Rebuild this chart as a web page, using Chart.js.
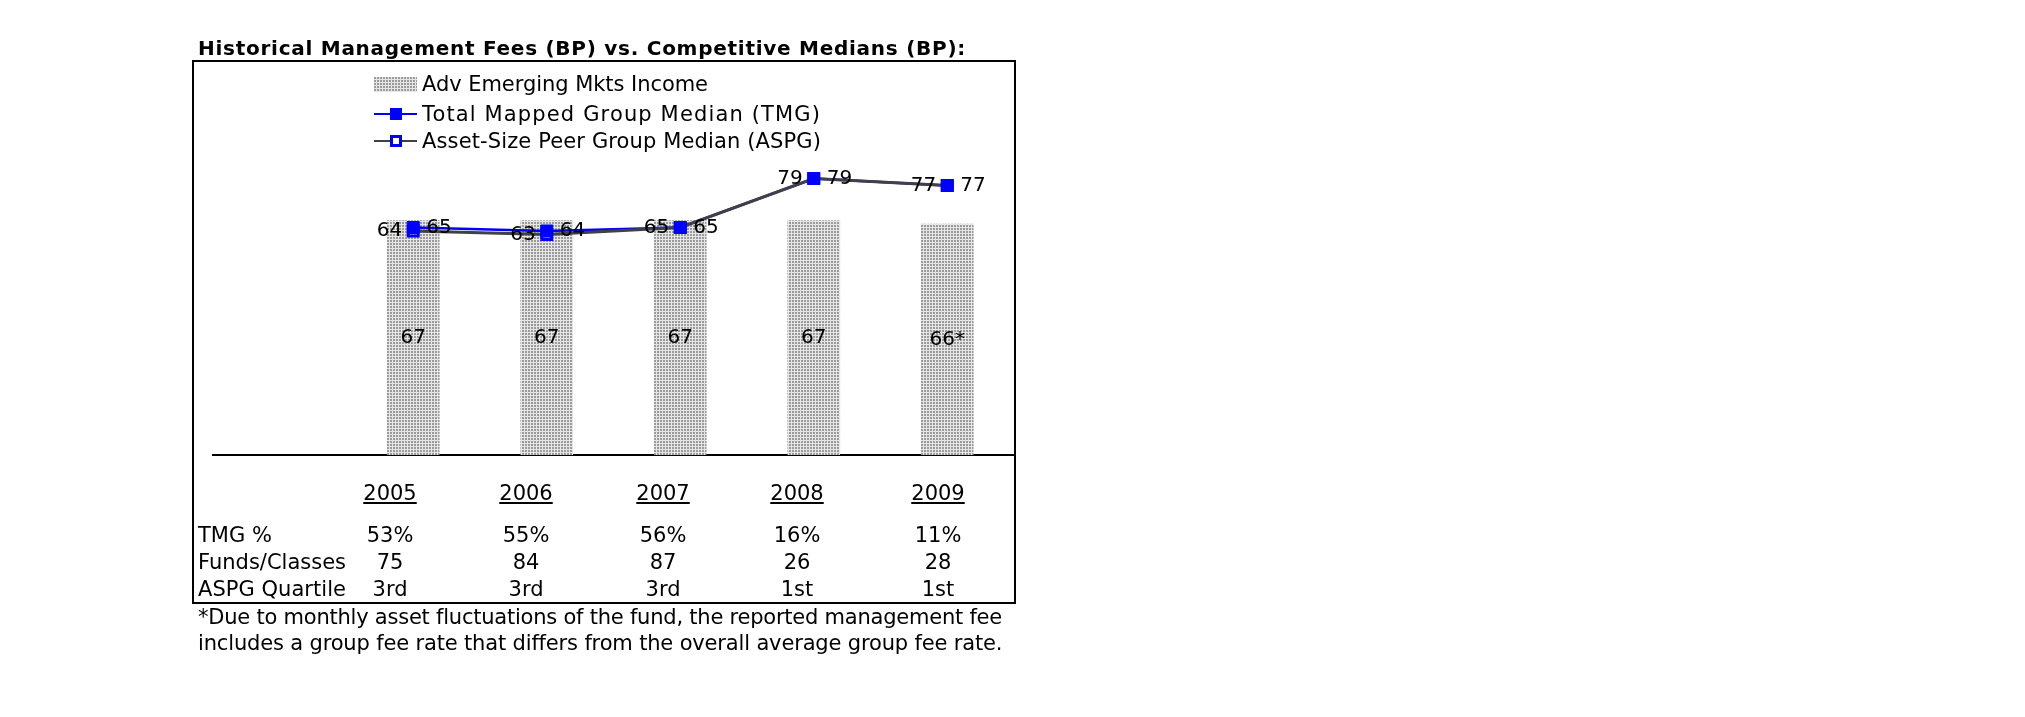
<!DOCTYPE html>
<html>
<head>
<meta charset="utf-8">
<script src="https://cdn.jsdelivr.net/npm/chart.js@4.4.1/dist/chart.umd.min.js"></script>
<style>
  body { margin: 0; background: #fff; width: 2025px; height: 717px; overflow: hidden; position: relative;
         font-family: "DejaVu Sans", Verdana, sans-serif; color: #000; }
  #myChart { position: absolute; left: 0; top: 0; }
  .t { position: absolute; white-space: nowrap; font-size: 21px; line-height: 24px; }
  .c { width: 100px; text-align: center; }
  #box { position: absolute; left: 192px; top: 60px; width: 824px; height: 544px; box-sizing: border-box; border: 2px solid #000; }
  .sym { position: absolute; }
</style>
</head>
<body>
<canvas id="myChart" width="2025" height="717"></canvas>
<div id="box"></div>
<div class="t" id="title" style="left:198px;top:36px;font-weight:bold;font-size:20px" data-w="768">Historical Management Fees (BP) vs. Competitive Medians (BP):</div>

<!-- legend -->
<div class="sym" id="patch" style="left:374px;top:77px;width:43px;height:15px;background:#c4c4c4"></div>
<div class="sym" style="left:374px;top:113px;width:43px;height:2px;background:#0000ff"></div>
<div class="sym" style="left:390px;top:108px;width:12px;height:12px;background:#0000ff"></div>
<div class="sym" style="left:374px;top:140px;width:43px;height:2px;background:#404048"></div>
<div class="sym" style="left:390px;top:135px;width:12px;height:12px;box-sizing:border-box;border:3px solid #0000ff;background:#fff"></div>
<div class="t" style="left:422px;top:72px" data-w="286">Adv Emerging Mkts Income</div>
<div class="t" style="left:422px;top:102px" data-w="399">Total Mapped Group Median (TMG)</div>
<div class="t" style="left:422px;top:129px" data-w="399">Asset-Size Peer Group Median (ASPG)</div>

<div id="table"></div>

<div class="t" style="left:198px;top:605px" data-w="804">*Due to monthly asset fluctuations of the fund, the reported management fee</div>
<div class="t" style="left:198px;top:631px" data-w="804">includes a group fee rate that differs from the overall average group fee rate.</div>

<script>
const years = ['2005', '2006', '2007', '2008', '2009'];
const fundFees = [67, 67, 67, 67, 66];
const fundFeeLabels = ['67', '67', '67', '67', '66*'];
const tmgMedian = [65, 64, 65, 79, 77];
const aspgMedian = [64, 63, 65, 79, 77];
const tmgPct = ['53%', '55%', '56%', '16%', '11%'];
const fundsClasses = ['75', '84', '87', '26', '28'];
const aspgQuartile = ['3rd', '3rd', '3rd', '1st', '1st'];
const rowNames = ['TMG %', 'Funds/Classes', 'ASPG Quartile'];

// table under the chart
const colX = [390, 526, 663, 797, 938];
const rowTop = [523, 550, 577];
let html = '';
years.forEach((y, i) => {
  html += '<div class="t c" style="left:' + (colX[i] - 50) + 'px;top:481px;text-decoration:underline">' + y + '</div>';
});
[tmgPct, fundsClasses, aspgQuartile].forEach((row, r) => {
  html += '<div class="t" style="left:198px;top:' + rowTop[r] + 'px" data-w="' + (r == 0 ? 74 : 148) + '">' + rowNames[r] + '</div>';
  row.forEach((v, i) => {
    html += '<div class="t c" style="left:' + (colX[i] - 50) + 'px;top:' + rowTop[r] + 'px">' + v + '</div>';
  });
});
document.getElementById('table').innerHTML = html;

document.querySelectorAll('[data-w]').forEach(el => {
  const target = +el.dataset.w;
  const w = el.getBoundingClientRect().width;
  el.style.letterSpacing = ((target - w) / el.textContent.length) + 'px';
});

// stippled fill for the bars (dark dots on light gray)
const pc = document.createElement('canvas');
pc.width = 3; pc.height = 3;
const pctx = pc.getContext('2d');
pctx.fillStyle = '#e6e6e6'; pctx.fillRect(0, 0, 3, 3);
pctx.fillStyle = '#9a9a9a'; pctx.fillRect(0, 0, 2, 2);
const stipple = pctx.createPattern(pc, 'repeat');
document.getElementById('patch').style.background = 'url(' + pc.toDataURL() + ')';

const xy = arr => arr.map((v, i) => ({ x: i, y: v }));

const valueLabels = {
  id: 'valueLabels',
  afterDatasetsDraw(chart) {
    const ctx = chart.ctx;
    ctx.save();
    ctx.font = '20px "DejaVu Sans"';
    ctx.fillStyle = '#000';
    ctx.textBaseline = 'middle';
    chart.data.datasets.forEach((ds, di) => {
      if (!ds.labelSide) return;
      const meta = chart.getDatasetMeta(di);
      meta.data.forEach((el, i) => {
        if (ds.labelSide == 'center') {
          ctx.textAlign = 'center';
          ctx.fillText(ds.labelText[i], el.x, (el.y + el.base) / 2);
        } else if (ds.labelSide == 'left') {
          ctx.textAlign = 'right';
          ctx.fillText(ds.labelText[i], el.x - 11, el.y);
        } else {
          ctx.textAlign = 'left';
          ctx.fillText(ds.labelText[i], el.x + 13, el.y);
        }
      });
    });
    ctx.restore();
  }
};

new Chart('myChart', {
  type: 'bar',
  plugins: [valueLabels],
  data: {
    datasets: [{
      data: xy(fundFees),
      backgroundColor: stipple,
      borderWidth: 0,
      barThickness: 52,
      order: 5,
      labelSide: 'center',
      labelText: fundFeeLabels
    }, {
      type: 'line',
      data: xy(tmgMedian),
      borderColor: '#0000ff',
      borderWidth: 2.5,
      pointRadius: 0,
      order: 4
    }, {
      type: 'line',
      data: xy(aspgMedian),
      borderColor: '#404048',
      borderWidth: 3,
      pointRadius: 0,
      order: 3
    }, {
      type: 'line',
      data: xy(tmgMedian),
      showLine: false,
      pointStyle: 'rect',
      pointRadius: 8.5,
      pointBackgroundColor: '#0000ff',
      pointBorderColor: '#0000ff',
      pointBorderWidth: 1,
      order: 2,
      labelSide: 'right',
      labelText: tmgMedian.map(String)
    }, {
      type: 'line',
      data: xy(aspgMedian),
      showLine: false,
      pointStyle: 'rect',
      pointRadius: 7,
      pointBackgroundColor: 'rgba(0,0,0,0)',
      pointBorderColor: '#0000ff',
      pointBorderWidth: 3,
      order: 1,
      labelSide: 'left',
      labelText: aspgMedian.map(String)
    }]
  },
  options: {
    responsive: false,
    animation: false,
    layout: { padding: { left: 213, right: 1011, top: 105, bottom: 262 } },
    plugins: { legend: { display: false }, tooltip: { enabled: false } },
    scales: {
      x: {
        type: 'linear',
        min: -1.5,
        max: 4.5,
        offset: false,
        ticks: { display: false },
        grid: { display: false, drawTicks: false },
        border: { display: true, color: '#000', width: 2 }
      },
      y: {
        display: false,
        min: 0,
        max: 100
      }
    }
  }
});
</script>
</body>
</html>
